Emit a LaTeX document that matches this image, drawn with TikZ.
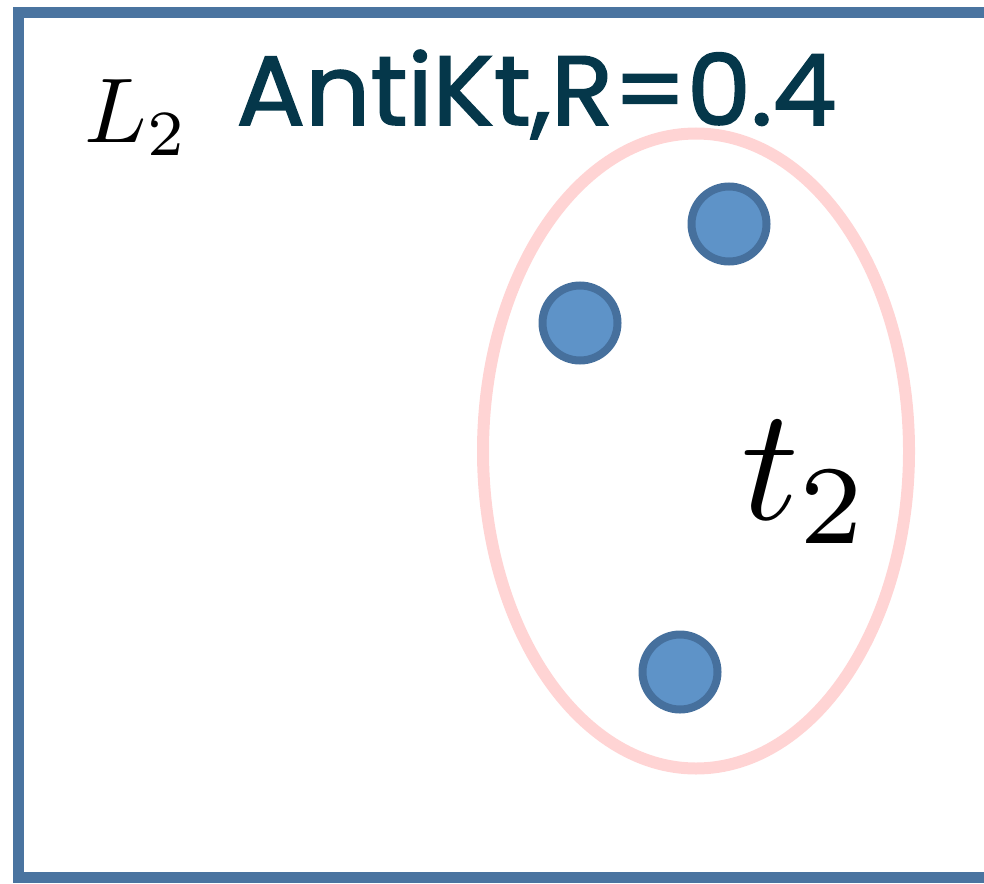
\documentclass[tikz,border=0pt]{standalone}
\usepackage{amsmath,amssymb}
\usepackage{graphicx}
\usepackage{fontspec}
\usepackage{tikz}
\usetikzlibrary{shapes,positioning,calc}
\usepackage{xcolor}
\newfontfamily\titlefont{Poppins}[FakeBold=1.6]
\definecolor{framecol}{HTML}{4A74A0}
\definecolor{titlecol}{HTML}{05374A}
\definecolor{ringcol}{HTML}{FFD4D4}
\definecolor{dotfill}{HTML}{5E93C8}
\definecolor{dotline}{HTML}{46709D}

\begin{document}
\begin{tikzpicture}[
    x=0.5pt, y=-0.5pt,
    particle/.style={circle, draw=dotline, fill=dotfill, line width=4pt, minimum size=37.5pt, inner sep=0pt},
    jetring/.style={draw=ringcol, line width=6pt},
    panel/.style={draw=framecol, line width=5.5pt}
]
    \useasboundingbox (0,0) rectangle (984,883);
    \draw[panel] (18.5,13) rectangle (1010,877);

    \node[anchor=base west, inner sep=0pt, text=titlecol] (algo) at (236,125)
        {\resizebox{300pt}{37.5pt}{\titlefont AntiKt,R=0.4}};
    \node[anchor=base west, inner sep=0pt] (level) at (84,142) {\scalebox{4.6}{$L_2$}};

    % jet cone
    \draw[jetring] (696,451) ellipse [x radius=213, y radius=317.5];

    \node[particle] (p1) at (729,224) {};
    \node[particle] (p2) at (580,323) {};
    \node[particle] (p3) at (680,672) {};

    \node[anchor=base west, inner sep=0pt] (jet) at (741,519) {\scalebox{8}{$t_2$}};
\end{tikzpicture}
\end{document}
